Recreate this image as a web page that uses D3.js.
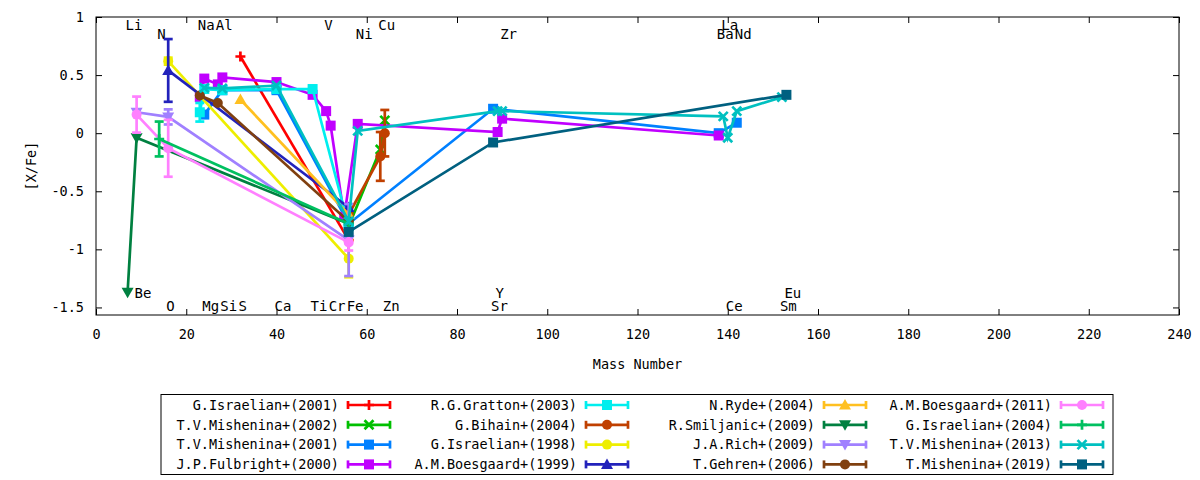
<!DOCTYPE html>
<html>
<head>
<meta charset="utf-8">
<script src="https://cdn.jsdelivr.net/npm/d3@7"></script>
<style>
  body { margin: 0; background: #fff; }
  text { font-family: "DejaVu Sans Mono", monospace; fill: #000; }
</style>
</head>
<body>
<div id="chart"></div>
<script>
// ---- data: [mass number, [X/Fe], error] ----
const israelian2001 = [[32, 0.66, 0], [56, -0.92, 0]];
const mishenina2002 = [[56, -0.80, 0], [63, -0.14, 0], [64, 0.11, 0]];
const mishenina2001 = [[24, 0.16, 0], [28, 0.37, 0], [40, 0.37, 0], [56, -0.78, 0], [88, 0.21, 0], [138, 0.00, 0], [142, 0.09, 0]];
const fulbright2000 = [[23, 0.31, 0], [24, 0.47, 0], [27, 0.42, 0], [28, 0.48, 0], [40, 0.44, 0], [48, 0.33, 0], [51, 0.19, 0], [52, 0.065, 0], [55, -0.72, 0], [58, 0.08, 0], [89, 0.01, 0], [90, 0.125, 0], [138, -0.02, 0]];
const gratton2003 = [[23, 0.18, 0.08], [24, 0.38, 0], [28, 0.37, 0], [40, 0.38, 0], [48, 0.38, 0], [56, -0.80, 0]];
const bihain2004 = [[56, -0.70, 0], [63, -0.20, 0.21], [64, 0.00, 0.20]];
const israelian1998 = [[16, 0.62, 0.03], [56, -1.08, 0.16]];
const boesgaard1999 = [[16, 0.54, 0.27], [56, -0.64, 0]];
const ryde2004 = [[32, 0.29, 0], [56, -0.70, 0]];
const smiljanic2009 = [[7, -1.37, 0], [9, -0.04, 0], [56, -0.78, 0]];
const rich2009 = [[9, 0.18, 0], [16, 0.14, 0.065], [56, -0.92, 0.31]];
const gehren2006 = [[23, 0.325, 0], [27, 0.26, 0], [56, -0.76, 0]];
const boesgaard2011 = [[9, 0.16, 0.155], [16, -0.13, 0.245], [56, -0.94, 0.07]];
const israelian2004 = [[14, -0.05, 0.15], [56, -0.78, 0]];
const mishenina2013 = [[24, 0.39, 0], [28, 0.385, 0], [40, 0.41, 0], [56, -0.76, 0], [58, 0.02, 0], [89, 0.19, 0], [90, 0.19, 0], [139, 0.145, 0], [140, -0.04, 0], [142, 0.19, 0], [152, 0.31, 0]];
const mishenina2019 = [[56, -0.85, 0], [88, -0.08, 0], [153, 0.33, 0]];

const seriesNames = [
  "G.Israelian+(2001)", "T.V.Mishenina+(2002)", "T.V.Mishenina+(2001)", "J.P.Fulbright+(2000)",
  "R.G.Gratton+(2003)", "G.Bihain+(2004)", "G.Israelian+(1998)", "A.M.Boesgaard+(1999)",
  "N.Ryde+(2004)", "R.Smiljanic+(2009)", "J.A.Rich+(2009)", "T.Gehren+(2006)",
  "A.M.Boesgaard+(2011)", "G.Israelian+(2004)", "T.V.Mishenina+(2013)", "T.Mishenina+(2019)"
];
const seriesData = [
  israelian2001, mishenina2002, mishenina2001, fulbright2000,
  gratton2003, bihain2004, israelian1998, boesgaard1999,
  ryde2004, smiljanic2009, rich2009, gehren2006,
  boesgaard2011, israelian2004, mishenina2013, mishenina2019
];

// element labels: [symbol, mass number, row]
const elementLabels = [
  ["Li", 7, 0], ["Na", 23, 0], ["Al", 27, 0], ["V", 51, 0], ["Cu", 63, 0], ["La", 139, 0],
  ["N", 14, 1], ["Ni", 58, 1], ["Zr", 90, 1], ["Ba", 138, 1], ["Nd", 142, 1],
  ["Be", 9, 2], ["Y", 89, 2], ["Eu", 153, 2],
  ["O", 16, 3], ["Mg", 24, 3], ["Si", 28, 3], ["S", 32, 3], ["Ca", 40, 3], ["Ti", 48, 3],
  ["Cr", 52, 3], ["Fe", 56, 3], ["Zn", 64, 3], ["Sr", 88, 3], ["Ce", 140, 3], ["Sm", 152, 3]
];

const xTicks = [0, 20, 40, 60, 80, 100, 120, 140, 160, 180, 200, 220, 240];
const yTicks = [1, 0.5, 0, -0.5, -1, -1.5];

// ---- styles ----
const colors = [
  "#ff0000", "#00c000", "#0080ff", "#c000ff",
  "#00eeee", "#c04000", "#eeee00", "#2222bb",
  "#ffc020", "#008040", "#a080ff", "#804010",
  "#ff80ff", "#00c060", "#00c0c0", "#006080"
];
const markers = [
  "plus", "cross", "square", "square",
  "square", "circle", "circle", "triUp",
  "triUp", "triDown", "triDown", "circle",
  "circle", "plus", "cross", "square"
];

const width = 1200, height = 480;
const plot = {left: 96, right: 1179, top: 17, bottom: 315};

const svg = d3.select("#chart").append("svg")
  .attr("width", width)
  .attr("height", height);

const x = d3.scaleLinear().domain([0, 240]).range([plot.left, plot.right]);
const y = d3.scaleLinear().domain([-1.565, 1]).range([plot.bottom, plot.top]);

// axes with inward ticks, mirrored
function styleAxis(g) {
  g.select(".domain").remove();
  g.selectAll(".tick line").attr("stroke", "#000").attr("stroke-width", 1);
  g.selectAll(".tick text").attr("font-size", "13.5px").attr("fill", "#000");
}
svg.append("g")
  .attr("transform", "translate(" + plot.left + ",0)")
  .call(d3.axisLeft(y).tickValues(yTicks).tickFormat(d => String(d)).tickSize(-6).tickPadding(12))
  .call(styleAxis);
svg.append("g")
  .attr("transform", "translate(" + plot.right + ",0)")
  .call(d3.axisRight(y).tickValues(yTicks).tickFormat("").tickSize(-6))
  .call(styleAxis);
svg.append("g")
  .attr("transform", "translate(0," + plot.bottom + ")")
  .call(d3.axisBottom(x).tickValues(xTicks).tickFormat(d => String(d)).tickSize(-6).tickPadding(14))
  .call(styleAxis);
svg.append("g")
  .attr("transform", "translate(0," + plot.top + ")")
  .call(d3.axisTop(x).tickValues(xTicks).tickFormat("").tickSize(-6))
  .call(styleAxis);

svg.append("rect")
  .attr("x", plot.left).attr("y", plot.top)
  .attr("width", plot.right - plot.left).attr("height", plot.bottom - plot.top)
  .attr("fill", "none").attr("stroke", "#000").attr("stroke-width", 1);

// axis titles
svg.append("text")
  .attr("x", (plot.left + plot.right) / 2).attr("y", 369)
  .attr("text-anchor", "middle").attr("font-size", "13.5px")
  .text("Mass Number");
svg.append("text")
  .attr("transform", "translate(36," + (plot.top + plot.bottom) / 2 + ") rotate(-90)")
  .attr("text-anchor", "middle").attr("font-size", "13.5px")
  .text("[X/Fe]");

// element labels
const rowBaseline = [plot.top + 13, plot.top + 22, plot.bottom - 17, plot.bottom - 4.5];
svg.append("g").selectAll("text")
  .data(elementLabels)
  .enter().append("text")
  .attr("x", d => x(d[1]) - 2)
  .attr("y", d => rowBaseline[d[2]])
  .attr("font-size", "14px")
  .text(d => d[0]);

// marker drawing
function drawMarker(g, type, color) {
  if (type === "square") {
    g.append("rect").attr("x", -5).attr("y", -5).attr("width", 10).attr("height", 10).attr("fill", color);
  } else if (type === "circle") {
    g.append("circle").attr("r", 5).attr("fill", color);
  } else if (type === "triUp") {
    g.append("path").attr("d", "M0,-6L6,4.5L-6,4.5Z").attr("fill", color);
  } else if (type === "triDown") {
    g.append("path").attr("d", "M0,6L6,-4.5L-6,-4.5Z").attr("fill", color);
  } else if (type === "plus") {
    g.append("path").attr("d", "M-5,0H5M0,-5V5").attr("stroke", color).attr("stroke-width", 2.7).attr("fill", "none");
  } else if (type === "cross") {
    g.append("path").attr("d", "M-4.5,-4.5L4.5,4.5M-4.5,4.5L4.5,-4.5").attr("stroke", color).attr("stroke-width", 2.7).attr("fill", "none");
  }
}

const line = d3.line().x(d => x(d[0])).y(d => y(d[1]));
const capW = 4.5;

seriesData.forEach((data, i) => {
  const color = colors[i];
  const g = svg.append("g");

  g.append("path")
    .datum(data)
    .attr("d", line)
    .attr("fill", "none")
    .attr("stroke", color)
    .attr("stroke-width", 2.7);

  // error bars
  const eb = g.selectAll(".err")
    .data(data.filter(d => d[2] > 0))
    .enter().append("g");
  eb.append("line")
    .attr("x1", d => x(d[0])).attr("x2", d => x(d[0]))
    .attr("y1", d => y(d[1] - d[2])).attr("y2", d => y(d[1] + d[2]));
  eb.append("line")
    .attr("x1", d => x(d[0]) - capW).attr("x2", d => x(d[0]) + capW)
    .attr("y1", d => y(d[1] - d[2])).attr("y2", d => y(d[1] - d[2]));
  eb.append("line")
    .attr("x1", d => x(d[0]) - capW).attr("x2", d => x(d[0]) + capW)
    .attr("y1", d => y(d[1] + d[2])).attr("y2", d => y(d[1] + d[2]));
  eb.selectAll("line").attr("stroke", color).attr("stroke-width", 2.7);

  // points
  g.selectAll(".pt")
    .data(data)
    .enter().append("g")
    .attr("transform", d => "translate(" + x(d[0]) + "," + y(d[1]) + ")")
    .each(function() { drawMarker(d3.select(this), markers[i], color); });
});

// legend
const legend = svg.append("g");
legend.append("rect")
  .attr("x", 161).attr("y", 394.5).attr("width", 952).attr("height", 80)
  .attr("fill", "#fff").attr("stroke", "#000").attr("stroke-width", 1);

const colTextRight = [339, 577, 815, 1052];
seriesNames.forEach((name, i) => {
  const col = Math.floor(i / 4), row = i % 4;
  const ly = 405 + row * 19.8;
  const tx = colTextRight[col];
  legend.append("text")
    .attr("x", tx).attr("y", ly).attr("dy", "0.36em")
    .attr("text-anchor", "end").attr("font-size", "13.5px")
    .text(name);
  const x0 = tx + 9, x1 = tx + 51;
  const s = legend.append("g").attr("stroke", colors[i]).attr("stroke-width", 2.7);
  s.append("line").attr("x1", x0).attr("x2", x1).attr("y1", ly).attr("y2", ly);
  s.append("line").attr("x1", x0).attr("x2", x0).attr("y1", ly - 4).attr("y2", ly + 4);
  s.append("line").attr("x1", x1).attr("x2", x1).attr("y1", ly - 4).attr("y2", ly + 4);
  const m = legend.append("g").attr("transform", "translate(" + (x0 + x1) / 2 + "," + ly + ")");
  drawMarker(m, markers[i], colors[i]);
});
</script>
</body>
</html>
